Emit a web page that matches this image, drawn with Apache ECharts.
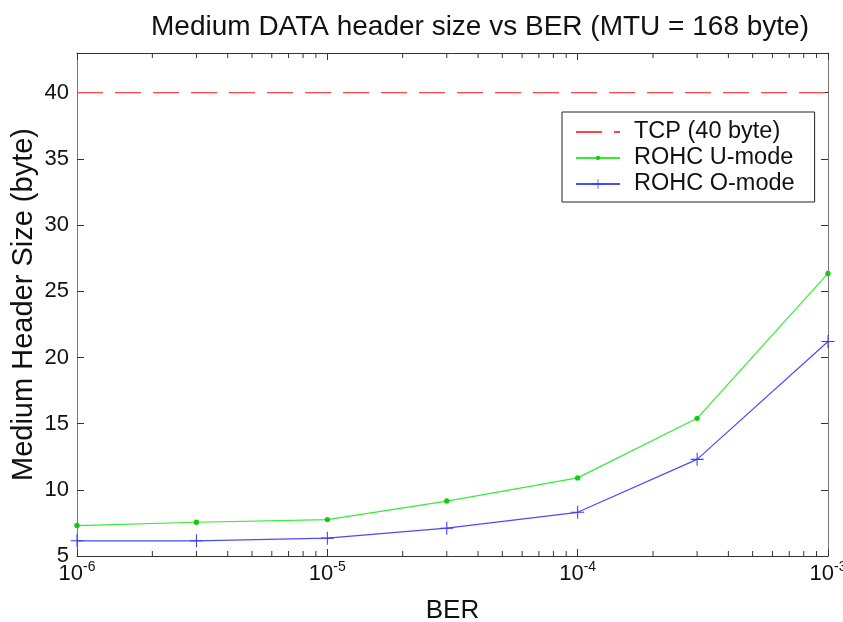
<!DOCTYPE html>
<html>
<head>
<meta charset="utf-8">
<script src="https://cdn.jsdelivr.net/npm/echarts@6/dist/echarts.min.js"></script>
<style>
  html, body { margin: 0; padding: 0; background: #fff; }
  #main { width: 843px; height: 622px; }
</style>
</head>
<body>
<div id="main"></div>
<script>
// data
const berValues = [1e-6, 3e-6, 1e-5, 3e-5, 1e-4, 3e-4, 1e-3];
const uModeSize = [7.3, 7.55, 7.75, 9.15, 10.9, 15.4, 26.35];
const oModeSize = [6.15, 6.15, 6.35, 7.1, 8.3, 12.3, 21.2];
const tcpSize = 40;
const xRange = [1e-6, 1e-3];
const yRange = [5, 43];
const yStep = 5;
const decades = [1e-6, 1e-5, 1e-4];
const minorSteps = [2, 3, 4, 5, 6, 7, 8, 9];

const minorTicks = [];
decades.forEach(d => minorSteps.forEach(s => minorTicks.push([d * s, yRange[0]])));

const axisColor = "#333";
const font = "Liberation Sans, Arial, sans-serif";

// small dot inside a bigger (empty) box so the legend dot stays small
const dotSymbol =
  "path://M-1,-1L-1,-0.999ZM1,1L1,0.999ZM0,-0.45A0.45,0.45,0,1,1,0,0.45A0.45,0.45,0,1,1,0,-0.45Z";
const plusSymbol =
  "path://M-0.08,-1h0.16v0.92h0.92v0.16h-0.92v0.92h-0.16v-0.92h-0.92v-0.16h0.92z";

const chart = echarts.init(document.getElementById("main"));

const option = {
  backgroundColor: "#fff",
  animation: false,
  textStyle: { fontFamily: font, color: "#111" },
  title: {
    text: "Medium DATA header size vs BER (MTU = 168 byte)",
    left: 475,
    textAlign: "center",
    top: 8,
    textStyle: { fontSize: 28, fontWeight: "normal", color: "#111", fontFamily: font },
  },
  legend: {
    orient: "vertical",
    left: 562,
    top: 112,
    padding: [8, 20, 6, 13],
    itemGap: 2,
    itemWidth: 44,
    itemHeight: 12,
    backgroundColor: "#fff",
    borderColor: "#222",
    borderWidth: 1,
    borderRadius: 0,
    data: [
      { name: "TCP (40 byte)", itemStyle: { opacity: 0 } },
      "ROHC U-mode",
      "ROHC O-mode",
    ],
    textStyle: { fontSize: 23.5, color: "#111", fontFamily: font, padding: [0, 0, 0, 9] },
  },
  grid: { left: 77, right: 15, top: 53, bottom: 66, outerBoundsMode: "none", containLabel: false },
  xAxis: [
    {
      type: "log",
      logBase: 10,
      min: xRange[0],
      max: xRange[1],
      name: "BER",
      nameLocation: "middle",
      nameGap: 42,
      nameMoveOverlap: false,
      nameTextStyle: { fontSize: 26, color: "#111", fontFamily: font },
      axisLine: { lineStyle: { color: axisColor } },
      axisTick: { inside: true, length: 7, lineStyle: { color: axisColor } },
      splitLine: { show: false },
      axisLabel: {
        margin: 4,
        color: "#111",
        formatter: v => "{b|10}{s|" + Math.round(Math.log10(v)) + "}",
        rich: {
          b: { fontSize: 22, lineHeight: 25, verticalAlign: "bottom", fontFamily: font, color: "#111" },
          s: { fontSize: 14, lineHeight: 14, verticalAlign: "top", fontFamily: font, color: "#111" },
        },
      },
    },
    {
      type: "log",
      logBase: 10,
      position: "top",
      min: xRange[0],
      max: xRange[1],
      axisLine: { lineStyle: { color: axisColor } },
      axisTick: { inside: true, length: 7, lineStyle: { color: axisColor } },
      axisLabel: { show: false },
      splitLine: { show: false },
    },
  ],
  yAxis: [
    {
      type: "value",
      min: yRange[0],
      max: yRange[1],
      interval: yStep,
      name: "Medium Header Size (byte)",
      nameLocation: "middle",
      nameGap: 39,
      nameMoveOverlap: false,
      nameTextStyle: { fontSize: 29, color: "#111", fontFamily: font },
      axisLine: { show: true, lineStyle: { color: "#777" } },
      axisTick: { show: true, inside: true, length: 7, lineStyle: { color: axisColor } },
      splitLine: { show: false },
      axisLabel: { fontSize: 22, color: "#111", margin: 8, showMaxLabel: false },
    },
    {
      type: "value",
      position: "right",
      min: yRange[0],
      max: yRange[1],
      interval: yStep,
      axisLine: { show: true, lineStyle: { color: "#777" } },
      axisTick: { show: true, inside: true, length: 7, lineStyle: { color: axisColor } },
      axisLabel: { show: false },
      splitLine: { show: false },
    },
  ],
  series: [
    {
      name: "TCP (40 byte)",
      type: "line",
      data: xRange.map(x => [x, tcpSize]),
      symbol: "none",
      color: "#ff4444",
      lineStyle: { width: 1.3, type: [26, 12], color: "#ff4444" },
    },
    {
      name: "ROHC U-mode",
      type: "line",
      data: berValues.map((x, i) => [x, uModeSize[i]]),
      symbol: dotSymbol,
      symbolSize: 12,
      color: "#11cc11",
      itemStyle: { color: "#11cc11" },
      lineStyle: { width: 1.2, color: "#33ee33" },
    },
    {
      name: "ROHC O-mode",
      type: "line",
      data: berValues.map((x, i) => [x, oModeSize[i]]),
      symbol: plusSymbol,
      symbolSize: 13,
      color: "#3a3aff",
      itemStyle: { color: "#3a3aff" },
      lineStyle: { width: 1.2, color: "#4a4aff" },
    },
    {
      name: "minor ticks",
      type: "custom",
      silent: true,
      data: minorTicks,
      renderItem: (params, api) => {
        const v = api.value(0);
        const b = api.coord([v, yRange[0]]);
        const t = api.coord([v, yRange[1]]);
        const st = { stroke: axisColor, lineWidth: 1 };
        return {
          type: "group",
          children: [
            { type: "line", shape: { x1: b[0], y1: b[1], x2: b[0], y2: b[1] - 5 }, style: st },
            { type: "line", shape: { x1: t[0], y1: t[1], x2: t[0], y2: t[1] + 5 }, style: st },
          ],
        };
      },
    },
  ],
};

chart.setOption(option);
window.addEventListener("resize", () => chart.resize());
</script>
</body>
</html>
